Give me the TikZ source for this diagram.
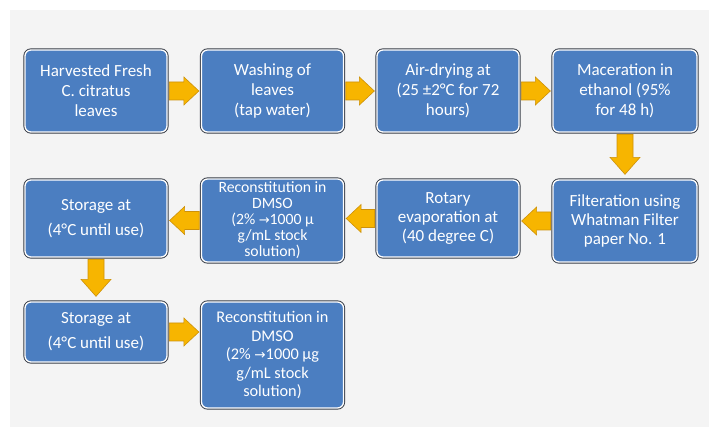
\documentclass[tikz,border=0pt]{standalone}
\usepackage{fontspec}
\setmainfont{Carlito}
\newfontfamily\symfont{DejaVu Sans}
\usetikzlibrary{calc}

\definecolor{boxblue}{RGB}{75,126,193}
\definecolor{boxedge}{RGB}{55,60,70}
\definecolor{flowgold}{RGB}{247,181,0}
\definecolor{flowedge}{RGB}{205,145,10}
\definecolor{pagegray}{RGB}{244,244,244}

\tikzset{
  stepbox/.style={draw=white, line width=1.3pt, fill=boxblue, rounded corners=6pt,
    preaction={draw=boxedge, line width=3.2pt},
    text=white, align=center, inner sep=2pt, minimum width=142pt,
    font=\fontsize{17}{20}\selectfont},
  flowarrow/.style={fill=flowgold, draw=flowedge, line width=0.6pt, line join=miter}
}

% fat arrows between two named boxes
\newcommand{\flowright}[2]{%
  \path[flowarrow] let \p1=(#1.east), \p2=(#2.west) in
    (\x1+1.6pt,\y1+9pt) -- (\x2-17pt,\y1+9pt) -- (\x2-17pt,\y1+14pt) -- (\x2-2pt,\y1)
    -- (\x2-17pt,\y1-14pt) -- (\x2-17pt,\y1-9pt) -- (\x1+1.6pt,\y1-9pt) -- cycle;}
\newcommand{\flowleft}[2]{%
  \path[flowarrow] let \p1=(#1.west), \p2=(#2.east) in
    (\x1-1.6pt,\y1+9pt) -- (\x2+17pt,\y1+9pt) -- (\x2+17pt,\y1+14pt) -- (\x2+2pt,\y1)
    -- (\x2+17pt,\y1-14pt) -- (\x2+17pt,\y1-9pt) -- (\x1-1.6pt,\y1-9pt) -- cycle;}
\newcommand{\flowdown}[2]{%
  \path[flowarrow] let \p1=(#1.south), \p2=(#2.north) in
    (\x1-8pt,\y1-1.6pt) -- (\x1-8pt,\y2+22pt) -- (\x1-15pt,\y2+22pt) -- (\x1,\y2+5pt)
    -- (\x1+15pt,\y2+22pt) -- (\x1+8pt,\y2+22pt) -- (\x1+8pt,\y1-1.6pt) -- cycle;}

\begin{document}
\begin{tikzpicture}[x=1pt, y=-1pt]
  \useasboundingbox (0,0) rectangle (709,427);
  \fill[pagegray] (10,10) rectangle (709,427);

  % first row
  \node[stepbox, minimum height=82pt] (harvest) at (96,91) {Harvested Fresh\\C. citratus\\leaves};
  \node[stepbox, minimum height=82pt] (wash) at (272.5,91) {Washing of\\leaves\\(tap water)};
  \node[stepbox, minimum height=82pt] (dry) at (448,91) {Air-drying at\\(25 ±2°C for 72\\hours)};
  \node[stepbox, minimum height=82pt, minimum width=144pt] (macer) at (625,91) {Maceration in\\ethanol (95\%\\for 48 h)};

  % second row
  \node[stepbox, minimum height=82pt, minimum width=144pt, font=\fontsize{17}{19}\selectfont] (filter) at (625,221) {Filteration using\\Whatman Filter\\paper No. 1};
  \node[stepbox, minimum height=77pt, font=\fontsize{17}{19}\selectfont] (rotary) at (448,218.5) {Rotary\\evaporation at\\(40 degree C)};
  \node[stepbox, minimum height=83pt, inner sep=0pt, font=\fontsize{15.7}{16}\selectfont] (recon1) at (272.5,220.5)
    {Reconstitution in\\DMSO\\(2\% {\symfont\fontsize{13}{16}\selectfont →}1000 µ\\g/mL stock\\solution)};
  \node[stepbox, minimum height=77pt, font=\fontsize{17}{25}\selectfont] (store1) at (96,218.5) {Storage at\\(4°C until use)};

  % third row
  \node[stepbox, minimum height=60pt, font=\fontsize{17}{25}\selectfont] (store2) at (96,332) {Storage at\\(4°C until use)};
  \node[stepbox, minimum height=106pt, font=\fontsize{16.3}{18.5}\selectfont] (recon2) at (272.5,355)
    {Reconstitution in\\DMSO\\(2\% {\symfont\fontsize{13.5}{16}\selectfont →}1000 µg\\g/mL stock\\solution)};

  \flowright{harvest}{wash}
  \flowright{wash}{dry}
  \flowright{dry}{macer}
  \flowdown{macer}{filter}
  \flowleft{filter}{rotary}
  \flowleft{rotary}{recon1}
  \flowleft{recon1}{store1}
  \flowdown{store1}{store2}
  \flowright{store2}{recon2}
\end{tikzpicture}
\end{document}
